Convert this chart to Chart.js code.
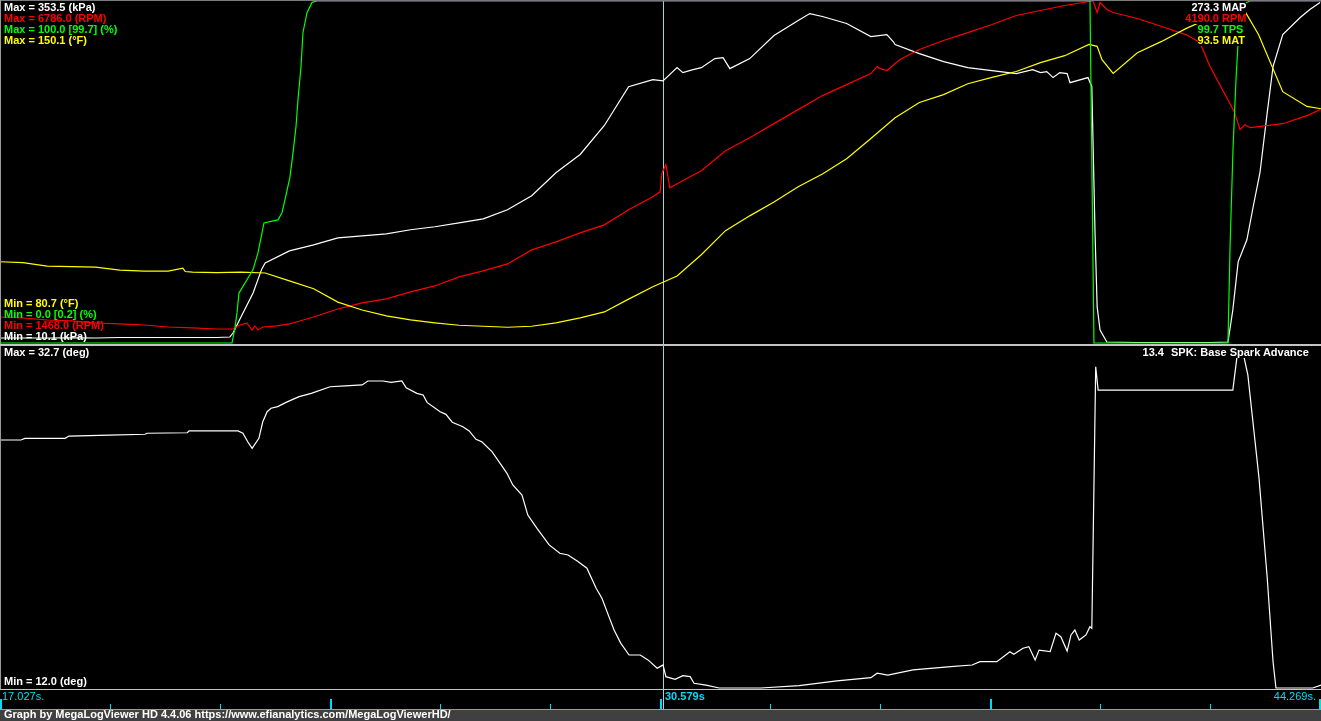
<!DOCTYPE html>
<html>
<head>
<meta charset="utf-8">
<script src="https://cdn.jsdelivr.net/npm/chart.js@4.4.1/dist/chart.umd.min.js"></script>
<style>
html, body { margin: 0; padding: 0; background: #000; width: 1321px; height: 721px; overflow: hidden; }
body { position: relative; font-family: "Liberation Sans", Arial, sans-serif; font-size: 11px; font-weight: bold; }
canvas { position: absolute; left: 0; }
.t { position: absolute; white-space: nowrap; line-height: 11px; }
.bg { background: #000; }
.line { position: absolute; background: #c4c4c4; }
#footer { position: absolute; left: 0; top: 710px; width: 1321px; height: 11px; background: #404040; color: #fff; }
#footer span { position: absolute; left: 4px; top: 0; line-height: 9px; white-space: nowrap; }
</style>
</head>
<body>
<canvas id="topChart" width="1321" height="345" style="top:0"></canvas>
<canvas id="botChart" width="1321" height="364" style="top:346px"></canvas>
<div class="line" style="left:0;top:0;width:1321px;height:1px;background:#7a7a7a"></div>
<div class="line" style="left:0;top:0;width:1px;height:689px;background:#9a9a9a"></div>
<div class="line" style="left:0;top:344px;width:1321px;height:2px"></div>
<div class="line" style="left:0;top:689px;width:1321px;height:1px"></div>
<div id="footer"><span>Graph by MegaLogViewer HD 4.4.06 https://www.efianalytics.com/MegaLogViewerHD/</span></div>
<script>
// time range of the log view (s)
const xMin = 17.027;
const xMax = 44.269;
const cursorTime = 30.71;
const axisLabels = ['17.027s.', '30.579s', '44.269s.'];

// MAP (kPa)
const mapTime = [17.0,17.5,18.0,18.5,19.0,19.5,20.0,20.5,21.0,21.5,21.77,21.836,22.0,22.25,22.43,22.5,23.0,23.5,24.0,24.5,25.0,25.5,26.0,26.5,27.0,27.5,28.0,28.5,29.0,29.5,30.0,30.5,30.71,31.0,31.12,31.33,31.5,31.78,31.95,32.09,32.5,33.0,33.5,33.74,34.0,34.5,35.0,35.33,35.46,35.5,36.0,36.5,37.0,37.5,38.0,38.34,38.5,38.63,38.76,38.9,39.05,39.11,39.48,39.56,39.626,39.67,39.73,39.87,40.5,41.0,41.5,42.0,42.37,42.47,42.58,42.76,42.89,43.03,43.18,43.30,43.5,43.86,44.06,44.27];
const mapVals = [15.1,15.1,15.1,15.3,15.1,15.6,15.6,15.6,15.6,15.6,16.1,20.1,36.2,60.4,84.5,90.5,102.6,108.7,115.7,117.7,119.7,123.8,126.8,130.8,134.8,143.9,158.0,181.1,199.4,228.5,267.5,274.6,273.3,286.6,281.6,284.6,286.6,295.7,296.7,285.6,295.7,318.8,333.9,340.9,337.9,330.9,317.8,319.8,312.8,309.8,300.7,292.7,286.6,283.6,280.6,284.6,281.6,282.6,276.6,281.6,280.6,271.5,276.6,267.5,120.7,46.3,23.2,11.1,10.6,10.6,10.6,10.6,11.1,43.3,91.6,113.7,146.9,181.1,241.4,287.6,319.8,336.9,345.0,352.0];

// RPM
const rpmTime = [17.0,17.5,18.0,18.5,19.0,19.5,20.0,20.5,21.0,21.5,21.836,21.98,22.12,22.23,22.29,22.35,22.45,22.74,23.0,23.5,24.0,24.5,25.0,25.5,26.0,26.5,27.0,27.5,28.0,28.5,29.0,29.5,30.0,30.5,30.65,30.69,30.77,30.85,31.0,31.5,32.0,32.5,33.0,33.5,34.0,34.5,35.0,35.13,35.19,35.33,35.6,36.0,36.5,37.0,37.5,38.0,38.5,39.0,39.5,39.585,39.67,39.73,39.87,40.0,40.5,41.0,41.5,41.79,42.0,42.5,42.62,42.72,42.83,43.5,44.0,44.27];
const rpmVals = [1873,1857,1826,1811,1779,1764,1748,1717,1702,1686,1686,1748,1779,1670,1733,1670,1717,1733,1764,1873,1997,2091,2153,2262,2355,2496,2589,2698,2916,3041,3181,3305,3539,3741,3819,4115,4240,3882,3944,4147,4458,4660,4879,5097,5315,5486,5657,5766,5735,5704,5875,6031,6171,6295,6420,6560,6638,6716,6778,6786,6607,6763,6654,6607,6514,6389,6264,6140,5766,5065,4785,4863,4816,4878,5003,5096];

// TPS (%)
const tpsTime = [17.0,21.815,21.877,21.918,21.959,22.124,22.248,22.352,22.434,22.475,22.764,22.847,22.909,23.012,23.074,23.136,23.177,23.239,23.280,23.363,23.466,23.569,39.522,39.553,39.604,42.370,42.411,42.473,42.535,42.576,42.659,42.824,44.3];
const tpsVals = [0,0,4.4,8.8,14.6,18.5,21.4,26.4,32.2,35.1,36.0,38.1,41.9,48.6,55.6,63.3,71.2,80.8,90.8,96.6,99.6,100,100,62,0,0,27.2,56.5,77,87.3,99,100,100];

// MAT (°F)
const matTime = [17.0,17.5,18.0,18.5,19.0,19.5,20.0,20.5,20.8,20.85,21.0,21.5,22.0,22.5,23.0,23.5,24.0,24.5,25.0,25.5,26.0,26.5,27.0,27.5,28.0,28.5,29.0,29.5,30.0,30.5,31.0,31.5,32.0,32.5,33.0,33.5,34.0,34.5,35.0,35.5,36.0,36.5,37.0,37.5,38.0,38.5,39.0,39.5,39.67,39.77,40.0,40.5,41.0,41.5,42.0,42.5,42.72,43.0,43.5,44.0,44.5];
const matVals = [97.2,97.0,96.3,96.2,96.1,95.5,95.3,95.3,95.9,95.2,95.1,95.0,95.1,94.9,93.3,91.7,89.0,87.4,86.2,85.4,84.8,84.3,84.1,83.9,84.1,84.8,85.8,87.0,89.6,92.1,94.3,98.6,103.5,106.5,109.3,112.4,115.0,118.1,122.2,126.4,129.5,131.1,133.3,134.6,135.8,137.6,139.0,141.3,140.9,138.2,135.4,139.6,141.9,144.5,146.7,148.0,148.0,143.3,131.7,128.7,127.9];

// SPK: Base Spark Advance (deg)
const spkTime = [17.03,17.46,17.54,18.37,18.45,19.28,20.02,20.06,20.89,20.93,21.94,22.04,22.14,22.23,22.37,22.45,22.54,22.62,22.76,22.93,23.20,23.45,23.84,24.15,24.50,24.62,24.93,25.10,25.32,25.41,25.63,25.76,25.84,26.11,26.23,26.36,26.58,26.71,26.85,26.97,27.18,27.37,27.49,27.61,27.80,27.92,28.11,28.36,28.58,28.75,28.94,29.14,29.33,29.45,29.58,29.70,29.84,30.01,30.24,30.40,30.59,30.65,30.71,30.77,30.96,31.12,31.27,31.35,31.60,31.87,32.73,33.52,34.30,35.00,35.13,35.35,35.87,36.65,37.09,37.25,37.60,37.87,37.95,38.14,38.26,38.39,38.47,38.70,38.82,38.92,39.05,39.13,39.21,39.30,39.44,39.52,39.56,39.60,39.64,39.69,42.47,42.56,42.66,42.78,43.01,43.18,43.30,43.36,44.12,44.29];
const spkVals = [27.10,27.10,27.20,27.20,27.34,27.40,27.45,27.51,27.54,27.65,27.65,27.51,26.99,26.59,27.20,28.21,28.82,29.03,29.13,29.39,29.74,29.94,30.34,30.40,30.45,30.69,30.69,30.61,30.69,30.28,29.94,29.84,29.39,28.82,28.66,28.18,27.91,27.65,27.14,26.99,26.39,25.58,25.07,24.36,23.75,22.53,21.72,20.71,20.20,20.10,19.73,19.29,18.07,17.46,16.45,15.53,14.72,14.01,14.01,13.71,13.20,13.30,13.40,12.69,12.53,12.75,12.69,12.29,12.18,12.0,12.0,12.14,12.43,12.63,12.90,12.79,13.10,13.30,13.40,13.60,13.60,14.21,14.05,14.42,14.52,13.71,14.31,14.21,15.33,15.12,14.25,15.23,15.53,14.92,15.23,15.73,15.64,23.57,31.56,30.14,30.14,32.27,32.7,31.06,24.79,18.70,13.60,12.0,12.0,12.18];

// labels
const topColors = ['#ffffff', '#ff0000', '#00ff00', '#ffff00'];
const maxLabels = ['Max = 353.5 (kPa)', 'Max = 6786.0 (RPM)', 'Max = 100.0 [99.7] (%)', 'Max = 150.1 (°F)'];
const minLabels = ['Min = 80.7 (°F)', 'Min = 0.0 [0.2] (%)', 'Min = 1468.0 (RPM)', 'Min = 10.1 (kPa)'];
const minColors = ['#ffff00', '#00ff00', '#ff0000', '#ffffff'];
const cursorVals = ['273.3', '4190.0', '99.7', '93.5'];
const fieldNames = ['MAP', 'RPM', 'TPS', 'MAT'];

const axisColor = '#00dcf2';
const cursorColor = '#8fdcdc';

function pts(ts, vs) {
    return ts.map((t, i) => ({ x: t, y: vs[i] }));
}

// cursor line
const cursorLine = {
    id: 'cursorLine',
    beforeDatasetsDraw(chart) {
        const x = Math.round(chart.scales.x.getPixelForValue(cursorTime)) + 0.5;
        const ctx = chart.ctx;
        ctx.save();
        ctx.strokeStyle = cursorColor;
        ctx.lineWidth = 1;
        ctx.beginPath();
        ctx.moveTo(x, 0);
        ctx.lineTo(x, chart.height);
        ctx.stroke();
        ctx.restore();
    }
};

// time ticks under bottom panel
const timeAxis = {
    id: 'timeAxis',
    afterDraw(chart) {
        const ctx = chart.ctx;
        const xs = chart.scales.x;
        const base = chart.height - 1;
        ctx.save();
        ctx.fillStyle = axisColor;
        ctx.fillRect(0, base, chart.width, 1);
        for (let i = 0; i <= 12; i++) {
            const t = xMin + i * (xMax - xMin) / 12;
            const x = Math.round(xs.getPixelForValue(t));
            const major = i % 3 === 0;
            const h = major ? 10 : 5;
            ctx.fillRect(major ? Math.min(x, chart.width - 2) : x, base - h, major ? 2 : 1, h);
        }
        ctx.restore();
    }
};

const lineStyle = { borderWidth: 1.2, pointRadius: 0, tension: 0, fill: false, clip: 4 };
const common = {
    responsive: false,
    animation: false,
    devicePixelRatio: 1,
    events: [],
    plugins: { legend: { display: false }, tooltip: { enabled: false } }
};

const topChart = new Chart(document.getElementById('topChart'), {
    type: 'line',
    data: {
        datasets: [
            { ...lineStyle, label: 'MAP', data: pts(mapTime, mapVals), borderColor: topColors[0], yAxisID: 'yMap', order: 4 },
            { ...lineStyle, label: 'RPM', data: pts(rpmTime, rpmVals), borderColor: topColors[1], yAxisID: 'yRpm', order: 3 },
            { ...lineStyle, label: 'TPS', data: pts(tpsTime, tpsVals), borderColor: topColors[2], yAxisID: 'yTps', order: 1 },
            { ...lineStyle, label: 'MAT', data: pts(matTime, matVals), borderColor: topColors[3], yAxisID: 'yMat', order: 2 }
        ]
    },
    options: {
        ...common,
        layout: { padding: { left: 0, right: 1, top: 1, bottom: 2 } },
        scales: {
            x: { type: 'linear', min: xMin, max: xMax, display: false },
            yMap: { min: 10.1, max: 353.5, display: false },
            yRpm: { min: 1468, max: 6786, display: false },
            yTps: { min: 0, max: 100, display: false },
            yMat: { min: 80.7, max: 150.1, display: false }
        }
    },
    plugins: [cursorLine]
});

const botChart = new Chart(document.getElementById('botChart'), {
    type: 'line',
    data: {
        datasets: [
            { ...lineStyle, label: 'SPK', data: pts(spkTime, spkVals), borderColor: '#ffffff', yAxisID: 'ySpk' }
        ]
    },
    options: {
        ...common,
        layout: { padding: { left: 0, right: 1, top: 2, bottom: 22 } },
        scales: {
            x: { type: 'linear', min: xMin, max: xMax, display: false },
            ySpk: { min: 12.0, max: 32.7, display: false }
        }
    },
    plugins: [cursorLine, timeAxis]
});

// text overlays
function addText(txt, css, cls) {
    const d = document.createElement('div');
    d.className = 't' + (cls ? ' ' + cls : '');
    d.textContent = txt;
    Object.assign(d.style, css);
    document.body.appendChild(d);
    return d;
}

maxLabels.forEach((s, i) => addText(s, { left: '4px', top: (1.5 + i * 11) + 'px', color: topColors[i] }));
minLabels.forEach((s, i) => addText(s, { left: '4px', top: (297.5 + i * 11.1) + 'px', color: minColors[i] }));
cursorVals.forEach((s, i) => {
    addText(s, { right: '102px', top: (1.5 + i * 11) + 'px', color: topColors[i] }, 'bg');
    addText(fieldNames[i], { left: '1219px', paddingLeft: '3px', top: (1.5 + i * 11) + 'px', color: topColors[i] }, 'bg');
});

addText('Max = 32.7 (deg)', { left: '4px', top: '347px', color: '#fff' });
addText('Min = 12.0 (deg)', { left: '4px', top: '675.6px', color: '#fff' });
addText('13.4', { right: '157px', top: '347px', color: '#fff' }, 'bg');
addText('SPK: Base Spark Advance', { left: '1171px', top: '347px', color: '#fff' }, 'bg');

const curX = botChart.scales.x.getPixelForValue(cursorTime);
addText(axisLabels[0], { left: '2px', top: '691.3px', color: axisColor, fontWeight: 'normal' });
addText(axisLabels[1], { left: (Math.round(curX) + 2) + 'px', top: '691.3px', color: axisColor });
addText(axisLabels[2], { right: '5px', top: '691.3px', color: axisColor, fontWeight: 'normal' });
</script>
</body>
</html>
